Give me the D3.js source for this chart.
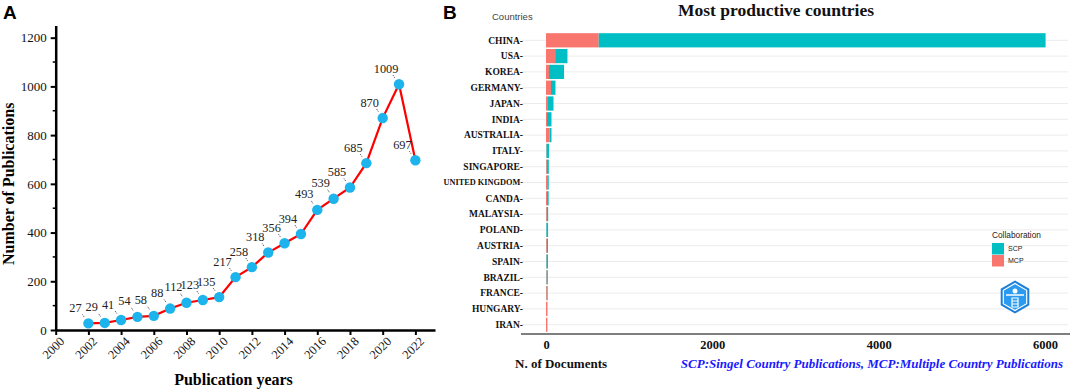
<!DOCTYPE html>
<html><head><meta charset="utf-8">
<script src="https://cdn.jsdelivr.net/npm/d3@7"></script>
<style>
body{margin:0;background:#fff;}
svg{display:block;}
</style></head>
<body>
<svg id="chart" width="1072" height="390"></svg>
<script>
// ---- Panel A data ----
const years = [2002,2003,2004,2005,2006,2007,2008,2009,2010,2011,2012,2013,2014,2015,2016,2017,2018,2019,2020,2021,2022];
const publications = [27,29,41,54,58,88,112,123,135,217,258,318,356,394,493,539,585,685,870,1009,697];
const yearTicks = [2000,2002,2004,2006,2008,2010,2012,2014,2016,2018,2020,2022];
const pubTicks = [0,200,400,600,800,1000,1200];

// ---- Panel B data ----
const countries = ["CHINA","USA","KOREA","GERMANY","JAPAN","INDIA","AUSTRALIA","ITALY","SINGAPORE","UNITED KINGDOM","CANDA","MALAYSIA","POLAND","AUSTRIA","SPAIN","BRAZIL","FRANCE","HUNGARY","IRAN"];
const scp = [5373,148,181,54,66,54,24,30,24,19,20,16,20,14,18,14,10,0,0];
const mcp = [634,110,36,60,24,12,42,6,10,14,12,10,5,10,6,8,10,18,17];
const docTicks = [0,2000,4000,6000];

const svg = d3.select("#chart");
const serif = "'Liberation Serif','Times New Roman',serif";
const sans = "'Liberation Sans',Arial,sans-serif";

// ================= Panel A =================
const xA = d3.scaleLinear().domain([2000, 2023.2]).range([55.7, 435]);
const yA = d3.scaleLinear().domain([0, 1250]).range([330, 25.5]);

svg.append("text").attr("x",3).attr("y",19).text("A")
  .attr("font-family",sans).attr("font-weight","bold").attr("font-size",19);

const gA = svg.append("g");
// minor y ticks
const yMinor = d3.range(100, 1250, 200);
gA.selectAll(".ymin").data(yMinor).join("line")
  .attr("x1",xA(2000)).attr("x2",xA(2000)-3).attr("y1",d=>yA(d)).attr("y2",d=>yA(d))
  .attr("stroke","#000").attr("stroke-width",1.5);

const yAxisA = d3.axisLeft(yA).tickValues(pubTicks).tickFormat(d3.format("d")).tickSize(5).tickPadding(4).tickSizeOuter(0);
const gy = gA.append("g").attr("transform",`translate(${xA(2000)},0)`).call(yAxisA);
gy.select(".domain").attr("stroke","#000").attr("stroke-width",2.5);
gy.selectAll(".tick line").attr("stroke","#000").attr("stroke-width",2);
gy.selectAll(".tick text").attr("font-family",serif).attr("font-size",13).attr("fill","#111");

const xAxisA = d3.axisBottom(xA).tickValues(yearTicks).tickFormat(d3.format("d")).tickSize(5).tickSizeOuter(0);
const gx = gA.append("g").attr("transform",`translate(0,${yA(0)})`).call(xAxisA);
gx.select(".domain").attr("stroke","#000").attr("stroke-width",2.5);
gx.selectAll(".tick line").attr("stroke","#000").attr("stroke-width",2);
gx.selectAll(".tick text").attr("font-family",serif).attr("font-size",12.5).attr("fill","#111")
  .attr("text-anchor","end").attr("dy","0.35em")
  .attr("transform","translate(6,9) rotate(-45)").attr("y",0).attr("x",0);

svg.append("text").attr("transform",`translate(14,${(yA(0)+yA(1200))/2}) rotate(-90)`)
  .attr("text-anchor","middle").attr("font-family",serif).attr("font-weight","bold").attr("font-size",16)
  .text("Number of Publications");
svg.append("text").attr("x",233.5).attr("y",385).attr("text-anchor","middle")
  .attr("font-family",serif).attr("font-weight","bold").attr("font-size",16).text("Publication years");

const ptsA = years.map((y,i)=>({year:y, v:publications[i]}));
const line = d3.line().x(d=>xA(d.year)).y(d=>yA(d.v));
gA.append("path").datum(ptsA).attr("d",line).attr("fill","none").attr("stroke","#ff0000").attr("stroke-width",2.2);

// leader segments
gA.selectAll(".lead").data(ptsA).join("line")
  .attr("x1",d=>xA(d.year)-6).attr("y1",d=>yA(d.v)-9)
  .attr("x2",d=>xA(d.year)-4).attr("y2",d=>yA(d.v)-6)
  .attr("stroke","#444").attr("stroke-width",1).attr("stroke-dasharray","1,1");

gA.selectAll(".pt").data(ptsA).join("circle")
  .attr("cx",d=>xA(d.year)).attr("cy",d=>yA(d.v)).attr("r",5.2).attr("fill","#1db3ec");

gA.selectAll(".lbl").data(ptsA).join("text")
  .attr("x",d=>xA(d.year)-13).attr("y",d=>yA(d.v)-11.5).attr("text-anchor","middle")
  .attr("font-family",serif).attr("font-size",12.3).attr("fill","#222").text(d=>d.v);

// ================= Panel B =================
svg.append("text").attr("x",443).attr("y",19).text("B")
  .attr("font-family",sans).attr("font-weight","bold").attr("font-size",19);
svg.append("text").attr("x",492).attr("y",20).text("Countries")
  .attr("font-family",sans).attr("font-size",9.5).attr("fill","#444");
svg.append("text").attr("x",776).attr("y",16).attr("text-anchor","middle").text("Most productive countries")
  .attr("font-family",serif).attr("font-weight","bold").attr("font-size",17.5).attr("fill","#111");

const xB = d3.scaleLinear().domain([0,6000]).range([546,1045]);
const yB = d3.scaleBand().domain(countries).range([32.4,332.6]).paddingInner(0.1).paddingOuter(0.05);
const gB = svg.append("g");

// gridlines
gB.selectAll(".grid").data(countries).join("line")
  .attr("x1",522).attr("x2",1068).attr("y1",d=>yB(d)+yB.bandwidth()/2).attr("y2",d=>yB(d)+yB.bandwidth()/2)
  .attr("stroke","#ececec").attr("stroke-width",1);

const rows = countries.map((c,i)=>({c, scp:scp[i], mcp:mcp[i]}));
// MCP then SCP stacked
gB.selectAll(".mcp").data(rows).join("rect")
  .attr("x",xB(0)).attr("y",d=>yB(d.c)).attr("height",yB.bandwidth())
  .attr("width",d=>xB(d.mcp)-xB(0)).attr("fill","#f8766d");
gB.selectAll(".scp").data(rows).join("rect")
  .attr("x",d=>xB(d.mcp)).attr("y",d=>yB(d.c)).attr("height",yB.bandwidth())
  .attr("width",d=>xB(d.mcp+d.scp)-xB(d.mcp)).attr("fill","#00bfc4");

// country labels
gB.selectAll(".clbl").data(countries).join("text")
  .attr("x",523).attr("y",d=>yB(d)+yB.bandwidth()/2).attr("dy","0.35em").attr("text-anchor","end")
  .attr("font-family",serif).attr("font-weight","bold")
  .attr("font-size",d=>d.length>12?8.3:9.5).attr("fill","#111").text(d=>d+"-");

// x axis
const xAxisB = d3.axisBottom(xB).tickValues(docTicks).tickSize(0).tickPadding(6).tickFormat(d3.format("d"));
const gxb = gB.append("g").attr("transform","translate(0,334)").call(xAxisB);
gxb.select(".domain").remove();
gB.append("line").attr("x1",521).attr("x2",1070).attr("y1",334).attr("y2",334).attr("stroke","#555").attr("stroke-width",1.3);
gxb.selectAll(".tick text").attr("font-family",serif).attr("font-weight","bold").attr("font-size",12.5).attr("fill","#111");

svg.append("text").attr("x",515).attr("y",368).text("N. of Documents")
  .attr("font-family",serif).attr("font-weight","bold").attr("font-size",13).attr("fill","#111");
svg.append("text").attr("x",1063).attr("y",368).attr("text-anchor","end")
  .text("SCP:Singel Country Publications, MCP:Multiple Country Publications")
  .attr("font-family",serif).attr("font-weight","bold").attr("font-style","italic").attr("font-size",13).attr("fill","#1a1aff");

// legend
const legend = svg.append("g");
legend.append("text").attr("x",992).attr("y",238).text("Collaboration").attr("font-family",sans).attr("font-size",8.3).attr("fill","#222");
const legItems = [{k:"SCP",c:"#00bfc4"},{k:"MCP",c:"#f8766d"}];
legend.selectAll(".lk").data(legItems).join("rect")
  .attr("x",992).attr("y",(d,i)=>243+i*12).attr("width",12).attr("height",11.5).attr("fill",d=>d.c);
legend.selectAll(".lt").data(legItems).join("text")
  .attr("x",1008).attr("y",(d,i)=>249+i*12).attr("dy","0.35em").text(d=>d.k)
  .attr("font-family",sans).attr("font-size",7).attr("fill","#222");

// logo
const cx=1015, cy=297, R=16.5;
const hex = d3.range(6).map(i=>{const a=Math.PI/180*(60*i-90);return [cx+R*Math.cos(a), cy+R*Math.sin(a)];});
const logo = svg.append("g");
logo.append("polygon").attr("points",hex.map(p=>p.join(",")).join(" ")).attr("fill","#1e7fd8");
const hex2 = d3.range(6).map(i=>{const a=Math.PI/180*(60*i-90);return [cx+(R-3)*Math.cos(a), cy+(R-3)*Math.sin(a)];});
logo.append("polygon").attr("points",hex2.map(p=>p.join(",")).join(" ")).attr("fill","#2a9bf0").attr("stroke","#fff").attr("stroke-width",1.2);
logo.append("circle").attr("cx",cx).attr("cy",cy-6).attr("r",2.5).attr("fill","#fff");
logo.append("line").attr("x1",cx-9).attr("x2",cx+9).attr("y1",cy-2).attr("y2",cy-2).attr("stroke","#fff").attr("stroke-width",1.5);
logo.append("path").attr("d",`M${cx-3},${cy+1} h6 v9 h-6 z M${cx-3},${cy+4} h6 M${cx-3},${cy+7} h6`).attr("fill","none").attr("stroke","#fff").attr("stroke-width",1.2);
</script>
</body></html>
